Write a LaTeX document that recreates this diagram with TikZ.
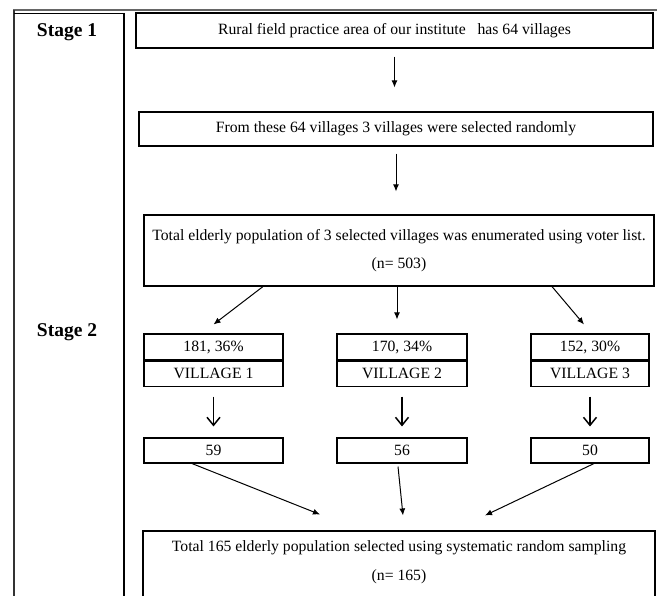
\documentclass[tikz,border=0pt]{standalone}
\usepackage{fontspec}
\setmainfont{Liberation Serif}[BoldFont={Liberation Serif Bold}]
\usetikzlibrary{arrows.meta, positioning, calc}

\begin{document}
\begin{tikzpicture}[x=1pt, y=-1pt,
    box/.style={draw, line width=1.1pt, rectangle, inner sep=0pt, align=center, font=\fontsize{15.7}{17.5}\selectfont},
    stagelbl/.style={font=\fontsize{19.5}{22}\selectfont\bfseries},
    thinarrow/.style={draw, line width=1pt, -{Latex[length=7pt, width=6pt]}},
    thickarrow/.style={draw, line width=1.5pt, -{Straight Barb[length=8pt, width=13pt]}}]
    \clip (0,0) rectangle (657,596);
    % stage column
    \draw[line width=1.5pt, black!60] (13,10) -- (657,10);
    \draw[line width=1.8pt, black!80] (14,10) -- (14,596);
    \draw[line width=1.3pt] (14,13.5) -- (124,13.5);
    \draw[line width=1.3pt] (124,13) -- (124,596);
    \node[stagelbl] (stageone) at (67,32) {Stage 1};
    \node[stagelbl] (stagetwo) at (67,332) {Stage 2};

    % stage 1
    \node[box, minimum width=517pt, minimum height=35pt] (area) at (394.5,30.5)
        {Rural field practice area of our institute~~~has 64 villages};
    \node[box, minimum width=514pt, minimum height=34pt] (sel) at (396,129)
        {From these 64 villages 3 villages were selected randomly};
    \node[box, minimum width=510pt, minimum height=71pt] (total) at (399,250.5)
        {Total elderly population of 3 selected villages was enumerated using voter list.\\[10pt](n= 503)};

    \draw[thinarrow] ([yshift=-8pt]area.south) -- ([yshift=24pt]area.south |- sel.north);
    \draw[thinarrow] ([yshift=-7pt]sel.south) -- ([yshift=23pt]sel.south |- total.north);

    % stage 2: villages
    \node[box, minimum width=139pt, minimum height=26pt] (cnt1) at (213.5,347) {181, 36\%};
    \node[box, minimum width=139pt, minimum height=25pt, below=0pt of cnt1] (vil1) {VILLAGE 1};
    \node[box, minimum width=130pt, minimum height=26pt] (cnt2) at (402,347) {170, 34\%};
    \node[box, minimum width=130pt, minimum height=25pt, below=0pt of cnt2] (vil2) {VILLAGE 2};
    \node[box, minimum width=118pt, minimum height=26pt] (cnt3) at (590,347) {152, 30\%};
    \node[box, minimum width=118pt, minimum height=25pt, below=0pt of cnt3] (vil3) {VILLAGE 3};

    \draw[thinarrow] ([xshift=-136pt]total.south) -- ([yshift=9pt]cnt1.north);
    \draw[thinarrow] ([xshift=-2pt]total.south) -- ([xshift=-5pt,yshift=14pt]cnt2.north);
    \draw[thinarrow] ([xshift=153pt]total.south) -- ([xshift=-6pt,yshift=9pt]cnt3.north);

    \node[box, minimum width=139pt, minimum height=25pt] (num1) at (213.5,450.5) {59};
    \node[box, minimum width=130pt, minimum height=25pt] (num2) at (402,450.5) {56};
    \node[box, minimum width=118pt, minimum height=25pt] (num3) at (590,450.5) {50};

    \foreach \i in {1,2,3}
        \draw[thickarrow, shorten <=10pt, shorten >=11pt] (vil\i) -- (num\i);

    % final sample
    \node[box, minimum width=512pt, minimum height=88pt] (sample) at (399,575)
        {Total 165 elderly population selected using systematic random sampling\\[11pt](n= 165)\\[11pt]\mbox{}};

    \draw[thinarrow] ([xshift=-21.5pt]num1.south) -- ([xshift=-79pt,yshift=16pt]sample.north);
    \draw[thinarrow] ([xshift=-4pt,yshift=-3pt]num2.south) -- ([xshift=4pt,yshift=15pt]sample.north);
    \draw[thinarrow] ([xshift=4pt]num3.south) -- ([xshift=86pt,yshift=15pt]sample.north);
\end{tikzpicture}
\end{document}
